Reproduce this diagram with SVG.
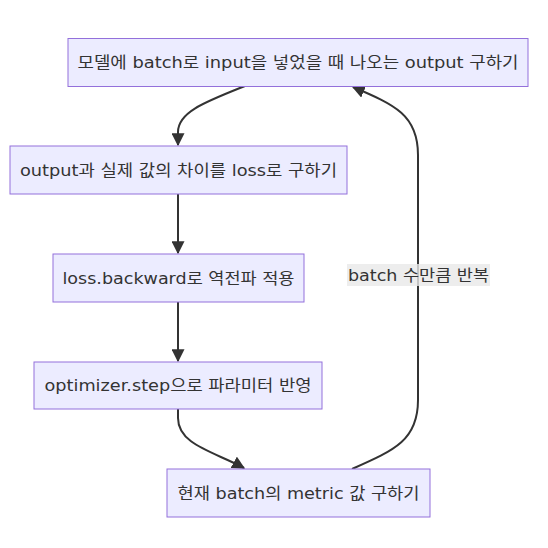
<svg xmlns="http://www.w3.org/2000/svg" width="548" height="548" viewBox="0 0 548 548">
<style>
.node rect{fill:#ECECFF;stroke:#9370DB;stroke-width:1}
.node text,.lbl text{font-family:"DejaVu Sans","Noto Sans CJK KR",sans-serif;font-size:16px;fill:#333;text-anchor:middle;dominant-baseline:central}
.edge{fill:none;stroke:#333;stroke-width:2}
</style>
<defs>
<marker id="arr" viewBox="0 0 10 10" refX="9" refY="5" markerUnits="userSpaceOnUse" markerWidth="13" markerHeight="13" orient="auto">
<path d="M0,0 L10,5 L0,10 z" fill="#333"/>
</marker>
</defs>
<rect width="548" height="548" fill="#fff"/>
<g id="connectors">
<path class="edge" d="M245,86 C205,102 178,112 178,132 L178,145" marker-end="url(#arr)"/>
<path class="edge" d="M178,194 L178,253" marker-end="url(#arr)"/>
<path class="edge" d="M178,302 L178,361" marker-end="url(#arr)"/>
<path class="edge" d="M178,409 L178,418 C178,445 215,452 244,468" marker-end="url(#arr)"/>
<path class="edge" d="M352,469 C395,450 418,440 418,400 L418,155 C418,115 395,105 353,87" marker-end="url(#arr)"/>
</g>
<g id="edge-label" class="lbl">
<rect x="347" y="264" width="143" height="22" fill="#e8e8e8" opacity="0.8"/>
<text x="418.5" y="275" textLength="141" lengthAdjust="spacingAndGlyphs">batch 수만큼 반복</text>
</g>
<g id="n1" class="node">
<rect x="68" y="38.5" width="460" height="48"/>
<text x="298" y="62.5" textLength="441" lengthAdjust="spacingAndGlyphs">모델에 batch로 input을 넣었을 때 나오는 output 구하기</text>
</g>
<g id="n2" class="node">
<rect x="10" y="146" width="337" height="48"/>
<text x="178.5" y="170" textLength="317" lengthAdjust="spacingAndGlyphs">output과 실제 값의 차이를 loss로 구하기</text>
</g>
<g id="n3" class="node">
<rect x="53" y="254" width="251" height="48"/>
<text x="178.5" y="278" textLength="232" lengthAdjust="spacingAndGlyphs">loss.backward로 역전파 적용</text>
</g>
<g id="n4" class="node">
<rect x="34" y="362" width="288" height="47"/>
<text x="178" y="385.5" textLength="267" lengthAdjust="spacingAndGlyphs">optimizer.step으로 파라미터 반영</text>
</g>
<g id="n5" class="node">
<rect x="167" y="469" width="263" height="48"/>
<text x="298.5" y="493" textLength="242" lengthAdjust="spacingAndGlyphs">현재 batch의 metric 값 구하기</text>
</g>
</svg>
